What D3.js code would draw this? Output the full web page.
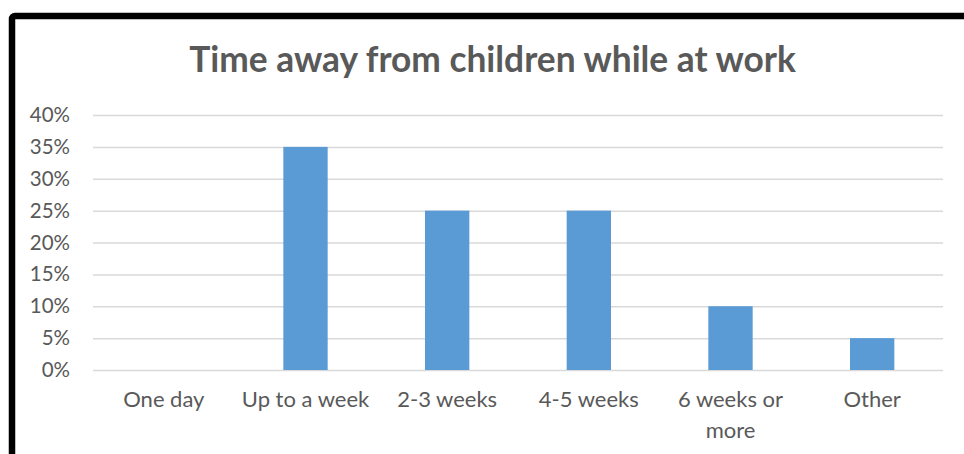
<!DOCTYPE html>
<html>
<head>
<meta charset="utf-8">
<script src="https://cdn.jsdelivr.net/npm/d3@7"></script>
<style>
  html, body { margin: 0; padding: 0; background: #fff; }
  svg { display: block; }
</style>
</head>
<body>
<svg id="chart" width="964" height="454"></svg>
<script>
// Survey: how long respondents are away from their children while at work
const categories = ["One day", "Up to a week", "2-3 weeks", "4-5 weeks", "6 weeks or more", "Other"];
const shares = [0, 0.35, 0.25, 0.25, 0.10, 0.05];
const tickValues = [0, 0.05, 0.10, 0.15, 0.20, 0.25, 0.30, 0.35, 0.40];
const title = "Time away from children while at work";

const svg = d3.select("#chart");
const W = 964, H = 454;
const plot = { left: 93, right: 943, top: 115, bottom: 370 };
const textColor = "#595959";
const font = "Lato, 'Open Sans', sans-serif";

svg.append("rect").attr("width", W).attr("height", H).attr("fill", "#fff");

// Frame around the chart (runs off the right and bottom edges)
svg.append("rect")
  .attr("x", 12).attr("y", 16)
  .attr("width", W + 20).attr("height", H + 20)
  .attr("rx", 3)
  .attr("fill", "none")
  .attr("stroke", "#000")
  .attr("stroke-width", 6.5);

const x = d3.scaleBand()
  .domain(categories)
  .range([plot.left, plot.right])
  .paddingInner(0.687)
  .paddingOuter(0.3435);

const y = d3.scaleLinear()
  .domain([0, 0.40])
  .range([plot.bottom, plot.top]);

// Horizontal gridlines
const yAxis = d3.axisLeft(y)
  .tickValues(tickValues)
  .tickFormat(d3.format(".0%"))
  .tickSize(-(plot.right - plot.left))
  .tickPadding(23);

const gy = svg.append("g")
  .attr("transform", `translate(${plot.left},0)`)
  .call(yAxis);
gy.select(".domain").remove();
gy.selectAll(".tick line").attr("stroke", "#d9d9d9").attr("stroke-width", 1.5);
gy.selectAll(".tick text")
  .attr("fill", textColor)
  .style("font-family", font)
  .style("font-size", "20.5px");

// Bars
svg.append("g").selectAll("rect")
  .data(categories.map((c, i) => ({ c, v: shares[i] })))
  .join("rect")
  .attr("x", d => x(d.c))
  .attr("width", x.bandwidth())
  .attr("y", d => y(d.v))
  .attr("height", d => y(0) - y(d.v))
  .attr("fill", "#5b9bd5");

// Category labels, wrapped to fit the band
const xAxis = d3.axisBottom(x).tickSize(0).tickPadding(0);
const gx = svg.append("g")
  .attr("transform", `translate(0,${plot.bottom})`)
  .call(xAxis);
gx.select(".domain").remove();
gx.selectAll(".tick text")
  .attr("fill", textColor)
  .style("font-family", font)
  .style("font-size", "22px")
  .attr("dy", null)
  .attr("y", 37)
  .each(function (d) {
    const t = d3.select(this);
    const lines = d === "6 weeks or more" ? ["6 weeks or", "more"] : [d];
    t.text(null);
    lines.forEach((ln, i) => {
      t.append("tspan").attr("x", 0).attr("y", 37 + i * 31).text(ln);
    });
  });

// Title
svg.append("text")
  .attr("x", 492.5)
  .attr("y", 71.5)
  .attr("text-anchor", "middle")
  .attr("fill", textColor)
  .style("font-family", font)
  .style("font-weight", "bold")
  .style("font-size", "35.3px")
  .text(title);
</script>
</body>
</html>
